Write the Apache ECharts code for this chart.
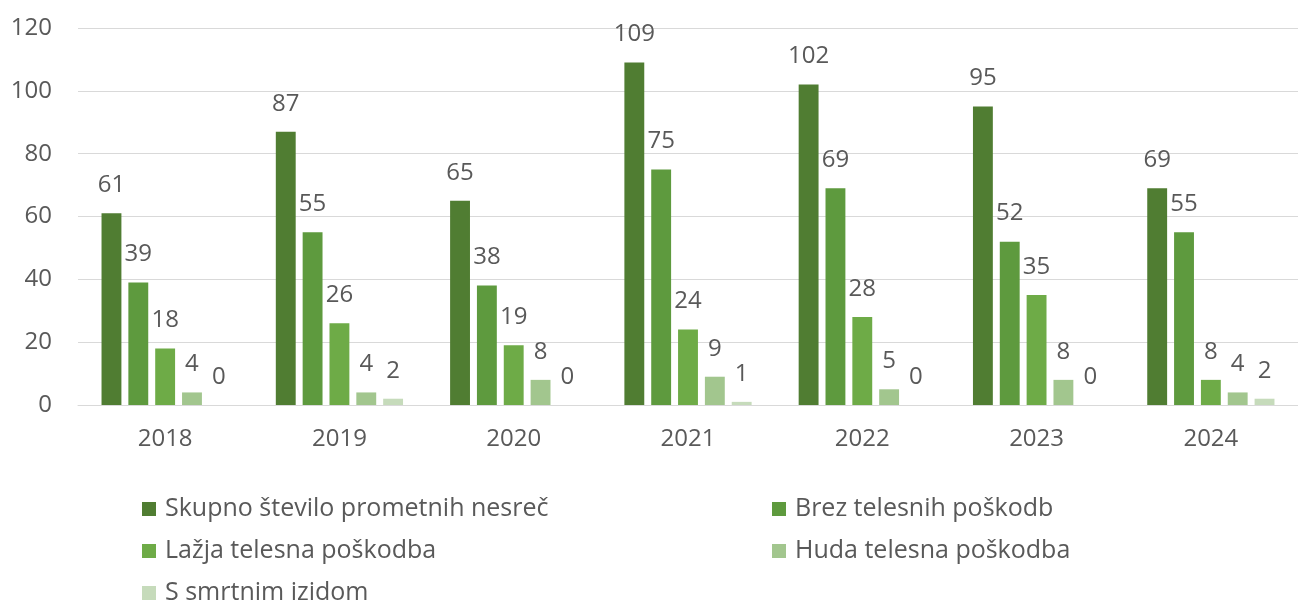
<!DOCTYPE html>
<html>
<head>
<meta charset="utf-8">
<script src="https://cdn.jsdelivr.net/npm/echarts@6/dist/echarts.min.js"></script>
<style>
  html, body { margin: 0; padding: 0; background: #fff; }
  #chart { width: 1298px; height: 604px; }
</style>
</head>
<body>
<div id="chart"></div>
<script>
// leta
var years = ['2018', '2019', '2020', '2021', '2022', '2023', '2024']
// serije
var skupno = [61, 87, 65, 109, 102, 95, 69]
var brez = [39, 55, 38, 75, 69, 52, 55]
var lazja = [18, 26, 19, 24, 28, 35, 8]
var huda = [4, 4, 8, 9, 5, 8, 4]
var smrt = [0, 2, 0, 1, 0, 0, 2]
var yTicks = [0, 20, 40, 60, 80, 100, 120]

var names = ['Skupno število prometnih nesreč', 'Brez telesnih poškodb', 'Lažja telesna poškodba', 'Huda telesna poškodba', 'S smrtnim izidom']
var colors = ['#507d32', '#5e9a3e', '#6eab47', '#a2c68e', '#c6dbbb']
var values = [skupno, brez, lazja, huda, smrt]

var font = '"Open Sans", "Noto Sans", sans-serif'
var grey = '#595959'

var chart = echarts.init(document.getElementById('chart'))

var series = names.map(function (n, i) {
  return {
    name: n,
    type: 'bar',
    data: values[i],
    barGap: '35%',
    barCategoryGap: '27%',
    itemStyle: { color: colors[i] },
    label: {
      show: true,
      position: 'top',
      distance: 16,
      color: grey,
      fontSize: 24,
      lineHeight: 24,
      fontFamily: font
    }
  }
})

var legendText = { color: grey, fontSize: 25, fontFamily: font, lineHeight: 26, padding: [0, 0, 0, 4] }

chart.setOption({
  animation: false,
  color: colors,
  grid: { left: 78, right: 0, top: 28, bottom: 199, containLabel: false },
  // dve koloni legende
  legend: [
    {
      left: 142, top: 496, padding: 0, height: 130, orient: 'vertical',
      itemWidth: 14, itemHeight: 14, itemGap: 16, icon: 'rect',
      textStyle: legendText,
      data: [names[0], names[2], names[4]]
    },
    {
      left: 772, top: 496, padding: 0, height: 130, orient: 'vertical',
      itemWidth: 14, itemHeight: 14, itemGap: 16, icon: 'rect',
      textStyle: legendText,
      data: [names[1], names[3]]
    }
  ],
  xAxis: {
    type: 'category',
    data: years,
    axisTick: { show: false },
    axisLine: { lineStyle: { color: '#d9d9d9', width: 1 } },
    axisLabel: { color: grey, fontSize: 24, lineHeight: 24, fontFamily: font, margin: 22 }
  },
  yAxis: {
    type: 'value',
    min: yTicks[0],
    max: yTicks[yTicks.length - 1],
    interval: 20,
    axisLine: { show: false },
    axisTick: { show: false },
    splitLine: { lineStyle: { color: '#d9d9d9', width: 1 } },
    axisLabel: { color: grey, fontSize: 24, fontFamily: font, margin: 26 }
  },
  series: series
})
</script>
</body>
</html>
